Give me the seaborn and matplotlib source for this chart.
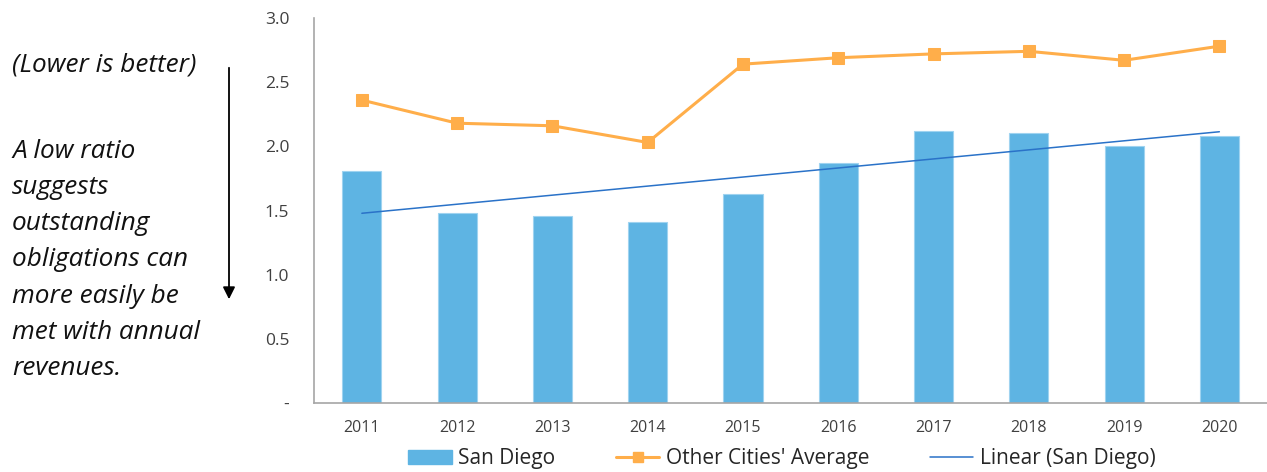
import numpy as np
import pandas as pd
import matplotlib
matplotlib.use("Agg")
import matplotlib.pyplot as plt
from matplotlib.lines import Line2D
from matplotlib.patches import Patch
import seaborn as sns

years = ["2011", "2012", "2013", "2014", "2015", "2016", "2017", "2018", "2019", "2020"]
san_diego = [1.81, 1.48, 1.46, 1.41, 1.63, 1.87, 2.12, 2.10, 2.00, 2.08]
other_avg = [2.36, 2.18, 2.16, 2.03, 2.64, 2.69, 2.72, 2.74, 2.67, 2.78]
y_ticks = [0, 0.5, 1.0, 1.5, 2.0, 2.5, 3.0]
y_tick_labels = ["-", "0.5", "1.0", "1.5", "2.0", "2.5", "3.0"]

sns.set_theme(style="white")
plt.rcParams['font.family'] = ['Open Sans', 'DejaVu Sans']

BAR = "#5EB4E3"
ORANGE = "#FFAE4A"
TREND = "#2A72C8"
TXT = "#404040"

fig = plt.figure(figsize=(12.67, 4.72), dpi=100)
ax = fig.add_axes([0.248, 0.146, 0.752, 0.816])

df = pd.DataFrame({"year": years, "sd": san_diego, "oth": other_avg})
pos = np.arange(len(years))

sns.barplot(data=df, x="year", y="sd", color=BAR, width=0.41, ax=ax,
            edgecolor="#9fd3f0", linewidth=0.8, saturation=1)
sns.lineplot(x=pos, y=other_avg, ax=ax, color=ORANGE, linewidth=2.2,
             marker="s", markersize=8, markeredgecolor=ORANGE)
coef = np.polyfit(pos, san_diego, 1)
trend = np.polyval(coef, pos)
sns.lineplot(x=pos, y=trend, ax=ax, color=TREND, linewidth=1.1)

ax.set_ylim(0, 3.0)
ax.set_xlim(-0.5, len(years) - 0.5)
ax.set_yticks(y_ticks)
ax.set_yticklabels(y_tick_labels)
ax.set_xlabel("")
ax.set_ylabel("")
ax.tick_params(axis="both", length=0, colors=TXT)
ax.tick_params(axis="y", pad=18, labelsize=12.5)
ax.tick_params(axis="x", pad=12, labelsize=11.5)
for s in ["top", "right"]:
    ax.spines[s].set_visible(False)
for s in ["left", "bottom"]:
    ax.spines[s].set_color("#A6A6A6")
    ax.spines[s].set_linewidth(1.2)

handles = [
    Patch(facecolor=BAR, edgecolor=BAR),
    Line2D([0], [0], color=ORANGE, lw=2.2, marker="s", markersize=7),
    Line2D([0], [0], color=TREND, lw=1.1),
]
labels = ["San Diego", "Other Cities' Average", "Linear (San Diego)"]
fig.legend(handles, labels, loc="center", bbox_to_anchor=(0.617, 0.028), ncol=3,
           frameon=False, fontsize=15, handlelength=2.1, columnspacing=2.9,
           handletextpad=0.3)

fig.text(12 / 1267, 1 - 65 / 472, "(Lower is better)", fontsize=18.8, style="italic",
         va="center", ha="left", color="#111111")
fig.text(12 / 1267, 1 - 260 / 472,
         "A low ratio\nsuggests\noutstanding\nobligations can\nmore easily be\nmet with annual\nrevenues.",
         fontsize=18.8, style="italic", va="center", ha="left", color="#111111",
         linespacing=1.58)
fig.add_artist(matplotlib.patches.FancyArrowPatch(
    (229 / 1267, 1 - 65 / 472), (229 / 1267, 1 - 302 / 472),
    transform=fig.transFigure, arrowstyle="-|>", mutation_scale=18,
    color="black", linewidth=1.3))

fig.savefig("out.png", dpi=100)
